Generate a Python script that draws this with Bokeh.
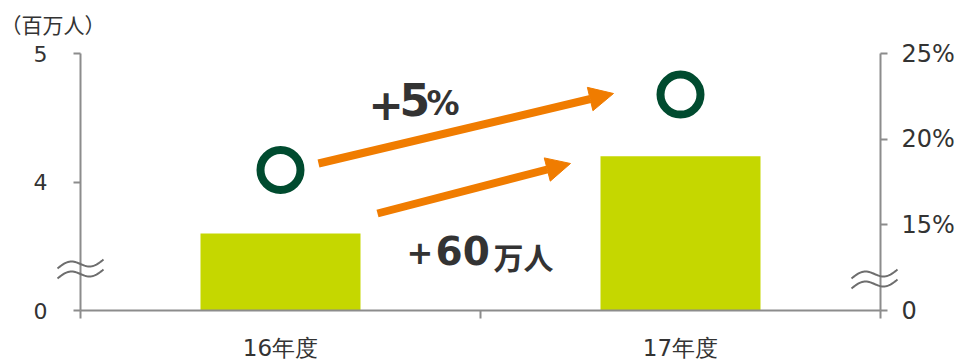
import numpy as np
from bokeh.plotting import figure
from bokeh.models import (Range1d, LinearAxis, FixedTicker, Arrow, NormalHead,
                          Label, PolyAnnotation)
from bokeh.embed import file_html
from bokeh.resources import INLINE

# ---- data ----
categories = ["16年度", "17年度"]
users_million = [3.6, 4.2]          # bars, left axis (百万人)
share_pct = [18.2, 22.6]            # circles, right axis (%)
left_ticks = [3, 4, 5]              # axis break: 0 is drawn at 3
left_tick_labels = ["0", "4", "5"]
right_ticks = [10, 15, 20, 25]      # axis break: 0 is drawn at 10
right_tick_labels = ["0", "15%", "20%", "25%"]
unit_label = "（百万人）"

BAR = "#C5D700"
CIRCLE = "#004B2F"
ARROW = "#F07C00"
TEXT = "#333333"
AXIS = "#8C8C8C"
BREAK = "#6E6E6E"

W, H = 959, 359
AL, AR, AT, AB = 80, 880, 53, 310   # axis box in canvas pixels
ncat = len(categories)

def dx(px):
    return (px - AL) / (AR - AL) * ncat

def dy(py):
    return left_ticks[0] + (AB - py) / (AB - AT) * (left_ticks[-1] - left_ticks[0])

def dr(py):
    return right_ticks[0] + (AB - py) / (AB - AT) * (right_ticks[-1] - right_ticks[0])

# plotting area = whole canvas; axes are placed at fixed locations
p = figure(width=W, height=H,
           x_range=Range1d(dx(0), dx(W)), y_range=Range1d(dy(H), dy(0)),
           output_backend="svg", toolbar_location=None,
           min_border_left=0, min_border_right=0,
           min_border_top=0, min_border_bottom=0)
p.title.visible = False
p.extra_y_ranges = {"r": Range1d(dr(H), dr(0))}
p.outline_line_color = None
p.xgrid.visible = False
p.ygrid.visible = False
p.background_fill_color = "white"
p.border_fill_color = "white"

xc = [i + 0.5 for i in range(ncat)]

# bars (broken axis: bars start at break base)
p.vbar(x=xc, top=users_million, bottom=left_ticks[0], width=0.4,
       fill_color=BAR, line_color=None)

# circles on right axis
p.scatter(x=xc, y=share_pct, y_range_name="r", size=40, line_width=8,
          line_color=CIRCLE, fill_color=None)

# x axis
xa = p.xaxis[0]
xa.fixed_location = left_ticks[0]
xa.bounds = (0, ncat)
xa.ticker = FixedTicker(ticks=xc, minor_ticks=list(range(ncat + 1)))
xa.major_label_overrides = {x: c for x, c in zip(xc, categories)}
xa.major_tick_line_color = None
xa.minor_tick_in = 0
xa.minor_tick_out = 8
xa.minor_tick_line_color = AXIS
xa.minor_tick_line_width = 2
xa.axis_line_color = AXIS
xa.axis_line_width = 2
xa.major_label_text_font = "DejaVu Sans"
xa.major_label_text_font_size = "23px"
xa.major_label_text_color = TEXT
xa.major_label_standoff = 16

# left axis
ya = p.yaxis[0]
ya.fixed_location = 0
ya.bounds = (left_ticks[0], left_ticks[-1])
ya.ticker = FixedTicker(ticks=left_ticks)
ya.major_label_overrides = {t: l for t, l in zip(left_ticks, left_tick_labels)}
ya.minor_tick_line_color = None
ya.major_tick_in = 0
ya.major_tick_out = 7
ya.major_tick_line_color = AXIS
ya.major_tick_line_width = 2
ya.axis_line_color = AXIS
ya.axis_line_width = 2
ya.major_label_text_font = "DejaVu Sans"
ya.major_label_text_font_size = "22px"
ya.major_label_text_color = TEXT
ya.major_label_standoff = 26

# right axis
ra = LinearAxis(y_range_name="r", ticker=FixedTicker(ticks=right_ticks),
                fixed_location=ncat, bounds=(right_ticks[0], right_ticks[-1]))
ra.major_label_overrides = {t: l for t, l in zip(right_ticks, right_tick_labels)}
ra.minor_tick_line_color = None
ra.major_tick_in = 0
ra.major_tick_out = 7
ra.major_tick_line_color = AXIS
ra.major_tick_line_width = 2
ra.axis_line_color = AXIS
ra.axis_line_width = 2
ra.major_label_text_font = "DejaVu Sans"
ra.major_label_text_font_size = "24px"
ra.major_label_text_color = TEXT
ra.major_label_standoff = 14
p.add_layout(ra, "right")

# axis break marks (two wavy strokes each)
t = np.linspace(0, 1, 40)
for (x0, y0) in [(57, 268), (851, 278)]:
    for off in (0, 10):
        xs = x0 + 46 * t
        ys = y0 + off - (9 * t + 4.5 * np.sin(2 * np.pi * t))
        xs_all = np.concatenate([xs, xs[::-1]])
        ys_all = np.concatenate([ys, ys[::-1]])
        p.add_layout(PolyAnnotation(xs=[dx(v) for v in xs_all],
                                    ys=[dy(v) for v in ys_all],
                                    fill_alpha=0, line_alpha=1,
                                    line_color=BREAK, line_width=2))

# arrows
for (sx, sy, ex, ey) in [(318, 163, 613, 93), (377, 213, 570, 163)]:
    p.add_layout(Arrow(x_start=dx(sx), y_start=dy(sy), x_end=dx(ex), y_end=dy(ey),
                       line_color=ARROW, line_width=8,
                       end=NormalHead(size=24, fill_color=ARROW, line_color=ARROW,
                                      line_width=1)))

# annotation texts (y = vertical middle, pixels)
def lab(px, py, text, font, size, bold=True):
    p.add_layout(Label(x=dx(px), y=dy(py), text=text, text_font=font,
                       text_font_size=size, text_color=TEXT,
                       text_font_style="bold" if bold else "normal",
                       text_align="left", text_baseline="middle"))

lab(368, 104, "+", "DejaVu Sans", "42px")
lab(399, 99, "5", "DejaVu Sans", "44px")
lab(426, 103, "%", "DejaVu Sans", "33px")
lab(406, 252, "+", "DejaVu Sans", "32px")
lab(435, 250, "60", "DejaVu Sans", "39px")
lab(493, 255, "万人", "Noto Sans CJK JP", "30px")

# unit label
lab(0, 23, unit_label, "Noto Sans CJK JP", "21px", bold=False)

open("out.html", "w").write(file_html(p, INLINE))
